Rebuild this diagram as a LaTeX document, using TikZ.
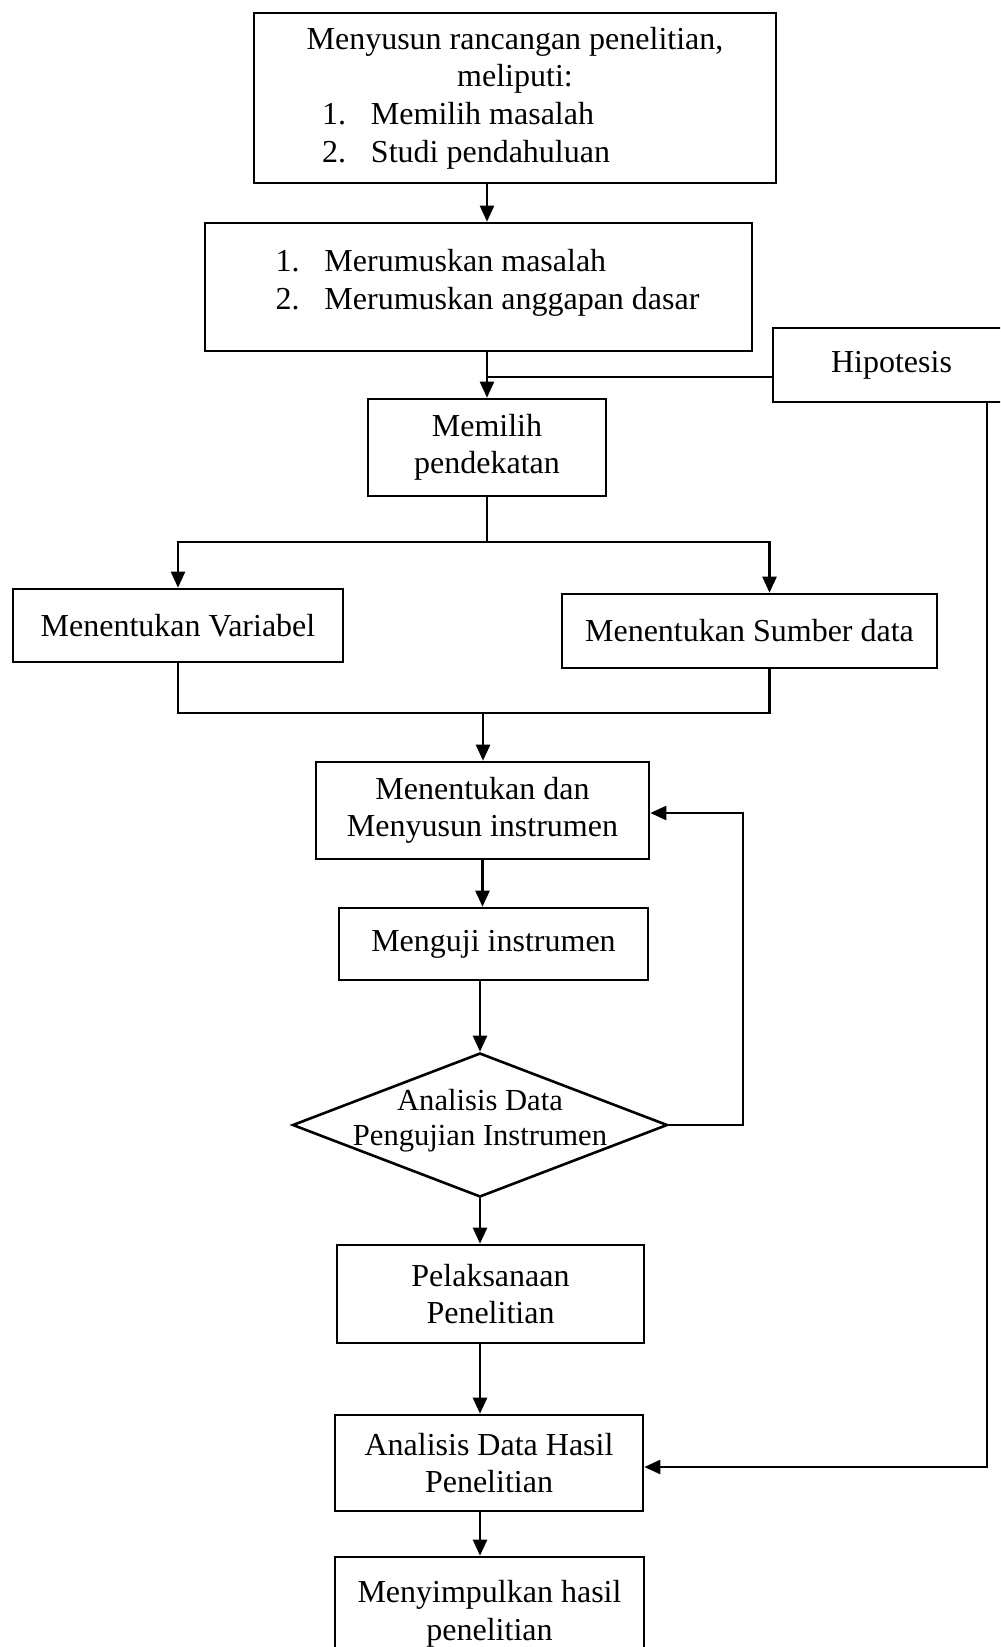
\documentclass[tikz,border=0pt]{standalone}
\usepackage{fontspec}
\setmainfont{Liberation Serif}
\usetikzlibrary{arrows.meta, positioning, shapes.geometric, calc}
\newcommand{\butir}[2]{\makebox[24.5pt][l]{#1}#2}

\begin{document}
\begin{tikzpicture}[
  x=0.5pt, y=-0.5pt,
  kotak/.style={draw, line width=1.3pt, align=center, font=\fontsize{16}{18.8}\selectfont, inner sep=2pt},
  putusan/.style={draw, diamond, line width=1.3pt, inner sep=0pt},
  isi/.style={align=center, font=\fontsize{15.3}{17.5}\selectfont},
  teks/.style={align=center, font=\fontsize{16}{18.8}\selectfont},
  garis/.style={line width=1.2pt},
  panah/.style={line width=1.2pt, -{Triangle[length=8pt, width=7pt]}}
]
\def\px{0.5pt}
\path[use as bounding box, clip] (0,0) rectangle (1000,1647);

\node[kotak, minimum width=522*\px, minimum height=170*\px] (rancangan) at (515,98)
  {Menyusun rancangan penelitian,\\ meliputi:\\
   \makebox[193pt][l]{\butir{1.}{Memilih masalah}}\\
   \makebox[193pt][l]{\butir{2.}{Studi pendahuluan}}};
\node[kotak, minimum width=547*\px, minimum height=128*\px,
  label={[teks, yshift=2pt]center:\makebox[203pt][l]{\butir{1.}{Merumuskan masalah}}\\
   \makebox[203pt][l]{\butir{2.}{Merumuskan anggapan dasar}}}] (rumusan) at (478.5,287) {};
\node[kotak, minimum width=237*\px, minimum height=74*\px] (hipotesis) at (891.5,365) {Hipotesis};
\node[kotak, minimum width=238*\px, minimum height=97*\px] (pendekatan) at (487,447.5) {Memilih\\ pendekatan};
\node[kotak, minimum width=330*\px, minimum height=73*\px] (variabel) at (178,625.5) {Menentukan Variabel};
\node[kotak, minimum width=375*\px, minimum height=74*\px] (sumber) at (749.5,631) {Menentukan Sumber data};
\node[kotak, minimum width=333*\px, minimum height=97*\px] (instrumen) at (482.5,810.5) {Menentukan dan\\ Menyusun instrumen};
\node[kotak, minimum width=309*\px, minimum height=72*\px] (uji) at (493.5,944) {Menguji instrumen};
\node[putusan, minimum width=375*\px, minimum height=144*\px,
  label={[isi, yshift=2pt]center:Analisis Data\\ Pengujian Instrumen}] (keputusan) at (480,1125) {};
\node[kotak, minimum width=307*\px, minimum height=98*\px] (pelaksanaan) at (490.5,1294) {Pelaksanaan\\ Penelitian};
\node[kotak, minimum width=308*\px, minimum height=96*\px] (hasil) at (489,1463) {Analisis Data Hasil\\ Penelitian};
\node[kotak, minimum width=309*\px, minimum height=113*\px] (simpulan) at (489.5,1613.5) {Menyimpulkan hasil\\ penelitian};

\coordinate (masuk) at ($(hipotesis.west)+(0,12)$);
\coordinate (cabang) at (487,542);
\coordinate (gabung) at (483,713);
\coordinate (balik) at (743,813);
\coordinate (turun) at (987,1467);

\draw[panah] (rancangan.south -| pendekatan.north) -- (rumusan.north -| pendekatan.north);
\draw[panah] (rumusan.south -| pendekatan.north) -- (pendekatan.north);
\draw[garis] (masuk) -- (masuk -| pendekatan.north);
\draw[garis] (pendekatan.south) -- (cabang);
\draw[panah] (cabang) -| (variabel.north);
\draw[panah] (cabang) -| ($(sumber.north)+(20,0)$);
\draw[garis] (variabel.south) |- (gabung);
\draw[garis] ($(sumber.south)+(20,0)$) |- (gabung);
\draw[panah] (gabung) -- (instrumen.north -| gabung);
\draw[panah] (instrumen.south) -- (uji.north -| instrumen.south);
\draw[panah] (uji.south -| keputusan.north) -- (keputusan.north);
\draw[panah] (keputusan.east) -| (balik) -- (instrumen.east |- balik);
\draw[panah] (keputusan.south) -- (pelaksanaan.north -| keputusan.south);
\draw[panah] (pelaksanaan.south -| keputusan.south) -- (hasil.north -| keputusan.south);
\draw[panah] (hasil.south -| keputusan.south) -- (simpulan.north -| keputusan.south);
\draw[panah] (hipotesis.south -| turun) -- (turun) -- (hasil.east |- turun);

\end{tikzpicture}
\end{document}
